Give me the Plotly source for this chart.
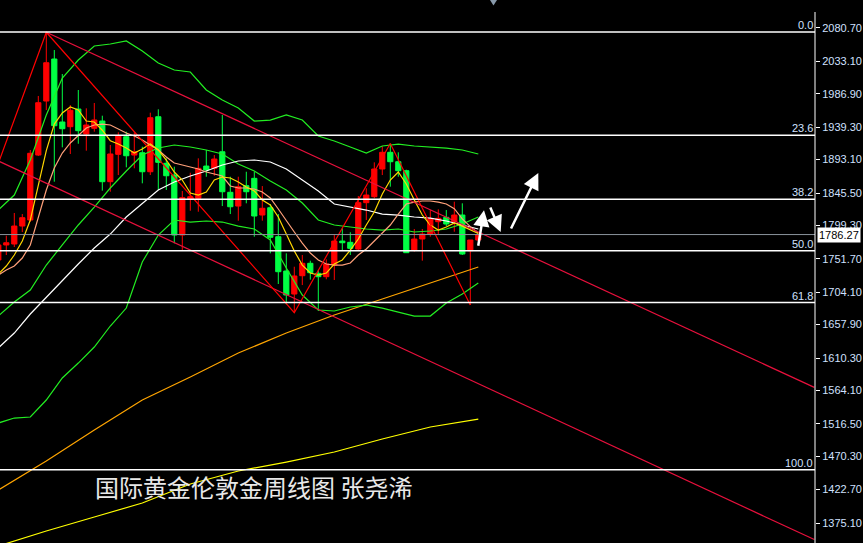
import plotly.graph_objects as go
import pandas as pd

# ---------------- data ----------------
weeks = pd.date_range("2020-06-21", periods=61, freq="7D")

opens = [1750.0, 1771.4, 1772.8, 1798.4, 1807.0, 1899.6, 1976.6, 2036.5, 1946.7, 1940.0,
         1965.2, 1929.6, 1937.7, 1948.1, 1861.6, 1900.6, 1925.7, 1899.6, 1902.9, 1875.8,
         1954.2, 1887.8, 1871.1, 1785.6, 1836.9, 1837.9, 1883.9, 1880.7, 1904.3, 1846.5,
         1826.9, 1855.9, 1866.4, 1814.1, 1824.5, 1783.2, 1734.3, 1701.5, 1727.6, 1745.3,
         1731.0, 1726.2, 1742.8, 1777.0, 1775.2, 1765.6, 1831.7, 1840.2, 1879.7, 1903.5,
         1890.1, 1877.3, 1764.2, 1779.9, 1787.0, 1804.6, 1810.8, 1804.6, 1814.1, 1763.2,
         1778.5]
highs = [1774.2, 1784.6, 1817.0, 1815.5, 1906.8, 1983.8, 2074.6, 2049.3, 2015.1, 1970.9,
         1992.3, 1966.2, 1973.8, 1955.7, 1913.9, 1932.0, 1932.9, 1932.0, 1911.5, 1960.0,
         1964.8, 1894.9, 1883.0, 1848.3, 1874.4, 1894.9, 1906.8, 1899.6, 1956.7, 1868.7,
         1868.7, 1875.8, 1875.8, 1855.4, 1829.8, 1815.5, 1759.5, 1740.4, 1757.1, 1749.0,
         1736.0, 1750.9, 1785.6, 1795.2, 1789.5, 1841.2, 1852.2, 1889.2, 1912.0, 1916.0,
         1903.5, 1878.7, 1794.2, 1794.2, 1821.2, 1822.2, 1821.2, 1833.1, 1830.8, 1778.5,
         1788.0]
lows = [1747.1, 1757.1, 1768.5, 1789.9, 1804.6, 1898.2, 1963.8, 1861.6, 1910.6, 1901.1,
        1915.7, 1905.8, 1932.9, 1848.8, 1847.3, 1871.1, 1882.1, 1880.7, 1859.3, 1871.1,
        1849.8, 1849.8, 1773.8, 1763.2, 1820.2, 1818.8, 1868.7, 1870.1, 1826.9, 1815.5,
        1806.0, 1830.8, 1783.2, 1806.0, 1759.5, 1715.8, 1686.8, 1674.9, 1714.3, 1722.0,
        1677.3, 1722.5, 1721.5, 1763.2, 1757.1, 1764.2, 1807.0, 1837.9, 1871.1, 1854.5,
        1868.7, 1760.0, 1762.0, 1749.0, 1783.2, 1787.0, 1798.4, 1790.3, 1757.1, 1685.8,
        1777.0]
closes = [1771.4, 1774.6, 1798.4, 1810.3, 1902.1, 1974.2, 2031.2, 1941.4, 1937.1, 1963.4,
          1934.3, 1942.4, 1949.6, 1861.6, 1901.1, 1926.7, 1898.6, 1904.3, 1875.8, 1952.8,
          1889.2, 1870.1, 1785.6, 1838.8, 1840.2, 1880.7, 1878.3, 1893.9, 1847.3, 1825.9,
          1854.5, 1847.3, 1812.7, 1823.7, 1782.3, 1733.3, 1700.1, 1727.2, 1745.3, 1731.9,
          1726.2, 1744.3, 1777.0, 1774.6, 1766.6, 1831.7, 1842.6, 1879.7, 1903.5, 1890.1,
          1877.3, 1760.4, 1779.9, 1787.0, 1808.4, 1809.4, 1801.3, 1814.1, 1758.5, 1778.5,
          1786.27]

ma5 = [1730.0, 1741.4, 1757.1, 1777.1, 1807.0, 1856.9, 1906.0, 1943.8, 1959.5, 1968.1,
       1963.8, 1948.1, 1946.7, 1935.0, 1920.0, 1915.3, 1909.6, 1902.5, 1908.2, 1915.3,
       1906.8, 1892.5, 1875.4, 1864.0, 1845.5, 1842.6, 1846.9, 1864.0, 1868.3, 1866.9,
       1861.2, 1854.0, 1848.3, 1835.5, 1828.4, 1811.3, 1787.0, 1762.8, 1742.8, 1731.4,
       1728.6, 1731.4, 1744.3, 1750.0, 1764.2, 1779.9, 1799.9, 1818.4, 1844.1, 1864.0,
       1875.4, 1858.3, 1835.5, 1814.1, 1799.9, 1792.7, 1797.0, 1802.7, 1798.3, 1792.4,
       1787.7]
ma10 = [1728.6, 1735.7, 1741.4, 1752.8, 1771.4, 1809.8, 1849.8, 1881.1, 1902.5, 1916.8,
        1928.2, 1938.1, 1942.4, 1943.8, 1942.4, 1936.7, 1931.0, 1926.7, 1921.0, 1913.9,
        1906.8, 1896.8, 1888.2, 1885.4, 1882.5, 1879.7, 1875.4, 1872.6, 1869.7, 1855.5,
        1852.6, 1852.6, 1851.2, 1846.9, 1838.4, 1822.7, 1805.6, 1789.9, 1774.2, 1759.9,
        1750.0, 1744.3, 1742.8, 1742.8, 1745.7, 1757.1, 1765.7, 1777.1, 1788.5, 1799.9,
        1815.5, 1829.8, 1832.6, 1834.1, 1834.1, 1832.6, 1829.8, 1823.1, 1808.6, 1797.5,
        1788.4]

# sampled every second week (weeks[0::2])
ma30 = [1624.5, 1645.9, 1673.0, 1697.2, 1721.5, 1744.3, 1767.1, 1787.0, 1811.3, 1831.2,
        1849.8, 1861.2, 1869.7, 1876.8, 1885.4, 1891.1, 1892.5, 1889.7, 1879.7, 1864.0,
        1848.3, 1829.8, 1825.5, 1821.2, 1815.5, 1814.1, 1811.3, 1809.8, 1805.6, 1799.9,
        1794.2]
bb_upper = [1821.2, 1842.6, 1892.5, 1956.7, 2009.4, 2035.1, 2055.0, 2057.9, 2062.2, 2047.9,
            2030.8, 2020.8, 2018.0, 1992.3, 1978.0, 1966.6, 1948.1, 1949.5, 1956.7, 1949.5,
            1926.7, 1919.6, 1911.1, 1902.5, 1912.5, 1915.3, 1912.5, 1911.1, 1909.6, 1906.8,
            1901.1]
bb_mid = [1670.1, 1690.1, 1707.2, 1742.8, 1771.4, 1799.9, 1825.5, 1852.6, 1876.8, 1899.6,
          1909.6, 1913.9, 1911.1, 1906.8, 1901.1, 1886.8, 1876.8, 1862.6, 1849.8, 1831.2,
          1807.0, 1799.9, 1797.0, 1794.2, 1792.7, 1794.2, 1789.9, 1791.3, 1794.2, 1801.3,
          1811.3]
bb_lower = [1517.6, 1524.7, 1526.2, 1550.4, 1581.8, 1603.1, 1626.0, 1655.9, 1681.5, 1747.1,
            1785.6, 1807.0, 1804.1, 1805.6, 1804.1, 1798.4, 1794.2, 1778.5, 1738.6, 1700.1,
            1678.7, 1677.3, 1683.0, 1685.8, 1681.5, 1675.8, 1670.1, 1670.1, 1688.7, 1701.5,
            1717.2]

# sampled every sixth week (weeks[0::6])
ma_orange = [1422.1, 1463.4, 1507.6, 1550.4, 1583.2, 1617.4, 1645.9, 1671.6, 1694.4, 1717.2, 1740.0]
ma_yellow = [1342.3, 1363.7, 1383.6, 1403.6, 1430.7, 1449.2, 1462.0, 1476.3, 1494.8, 1511.9, 1523.3]

zigzag_dates = ["2020-03-15", "2020-08-02", "2021-03-07", "2021-05-30", "2021-08-08"]
zigzag_prices = [1451.0, 2074.6, 1674.9, 1916.0, 1685.8]

chan_upper_dates = ["2020-08-02", "2022-06-05"]
chan_upper_prices = [2074.6, 1568.4]
chan_lower_dates = ["2020-06-21", "2022-06-05"]
chan_lower_prices = [1891.2, 1351.5]

fib_labels = ["0.0", "23.6", "38.2", "50.0", "61.8", "100.0"]
fib_prices = [2075.0, 1927.7, 1836.6, 1763.0, 1689.4, 1451.0]

last_price = 1786.27

tick_values = [2080.70, 2033.10, 1986.90, 1939.30, 1893.10, 1845.50, 1799.30, 1751.70,
               1704.10, 1657.90, 1610.30, 1564.10, 1516.50, 1470.30, 1422.70, 1375.10]

# arrows: (tip date, tip price, tail offset x px, tail offset y px)
arrows = [("2021-08-20", 1821.0, -6, 37),
          ("2021-09-03 14:00", 1790.0, -11, -26),
          ("2021-10-06 12:00", 1874.0, -28, 57)]

title_text = "国际黄金伦敦金周线图 张尧浠"

# ---------------- figure ----------------
RED = "#ff0000"
GREEN = "#00ff44"
AXC = "#d0e0ff"

fig = go.Figure()

fig.add_trace(go.Candlestick(
    x=weeks, open=opens, high=highs, low=lows, close=closes,
    increasing=dict(line=dict(color=RED, width=1), fillcolor=RED),
    decreasing=dict(line=dict(color=GREEN, width=1), fillcolor=GREEN),
    whiskerwidth=0, showlegend=False, hoverinfo="skip"))

def line(x, y, color, width=1.2):
    fig.add_trace(go.Scatter(x=x, y=y, mode="lines",
                             line=dict(color=color, width=width),
                             showlegend=False, hoverinfo="skip"))

line(weeks[0::6], ma_yellow, "#ffff00")
line(weeks[0::6], ma_orange, "#ffa500")
line(weeks[0::2], bb_upper, "#22ee22")
line(weeks[0::2], bb_mid, "#22ee22")
line(weeks[0::2], bb_lower, "#22ee22")
line(weeks[0::2], ma30, "#ffffff")
line(weeks, ma10, "#ffa07a")
line(weeks, ma5, "#ffd700")
line(chan_upper_dates, chan_upper_prices, "#e8103c")
line(chan_lower_dates, chan_lower_prices, "#e8103c")
line(zigzag_dates, zigzag_prices, RED)

shapes = []
for p in fib_prices:
    shapes.append(dict(type="line", xref="paper", yref="y", x0=0, x1=1, y0=p, y1=p,
                       line=dict(color="#ffffff", width=1.5), layer="above"))
shapes.append(dict(type="line", xref="paper", yref="y", x0=0, x1=1, y0=last_price, y1=last_price,
                   line=dict(color="#8a939c", width=1), layer="above"))
# price axis line
shapes.append(dict(type="line", xref="paper", yref="paper", x0=1, x1=1, y0=0, y1=1 - 12 / 543,
                   line=dict(color="#ffffff", width=1)))
# small marker at top
shapes.append(dict(type="path", xref="paper", yref="paper",
                   path="M 0.6012 1 L 0.6098 1 L 0.6055 0.9899 Z",
                   fillcolor="#8899aa", line=dict(width=0)))

annotations = []
for lab, p in zip(fib_labels, fib_prices):
    annotations.append(dict(xref="paper", yref="y", x=1, y=p, text=lab, showarrow=False,
                            xanchor="right", yanchor="bottom", xshift=-1, yshift=0,
                            borderpad=0,
                            font=dict(family="Liberation Sans, Arial", size=11, color=AXC)))
annotations.append(dict(xref="paper", yref="y", x=1, y=last_price, text=f"{last_price:.2f}",
                        showarrow=False, xanchor="left", yanchor="middle", xshift=2,
                        bgcolor="#ffffff", borderpad=1,
                        font=dict(family="Liberation Sans, Arial", size=11, color="#000000")))
for d, p, axp, ayp in arrows:
    annotations.append(dict(xref="x", yref="y", x=d, y=p, ax=axp, ay=ayp, text="",
                            showarrow=True, arrowhead=2, arrowsize=1.3, arrowwidth=2.5,
                            arrowcolor="#ffffff"))
annotations.append(dict(xref="paper", yref="paper", x=93 / 815, y=1 - 486 / 543,
                        text=title_text, showarrow=False, xanchor="left", yanchor="middle",
                        font=dict(family="Noto Sans CJK SC", size=24, color="#e8e8e8")))

x0 = weeks[1] - pd.Timedelta(days=5.5125)
x1 = weeks[1] + pd.Timedelta(days=707.6125)

fig.update_layout(
    width=863, height=543, autosize=False,
    margin=dict(l=0, r=48, t=0, b=0),
    paper_bgcolor="#000000", plot_bgcolor="#000000",
    hovermode=False, showlegend=False,
    boxgap=0.35, boxgroupgap=0,
    shapes=shapes, annotations=annotations,
    xaxis=dict(type="date", range=[x0, x1], visible=False, rangeslider=dict(visible=False),
               showgrid=False, zeroline=False),
    yaxis=dict(range=[1346.6, 2120.6], side="right", showgrid=False, zeroline=False,
               showline=False, tickvals=tick_values, automargin=False,
               ticktext=[f"{v:.2f}" for v in tick_values],
               ticks="outside", ticklen=4, tickcolor="#ffffff", tickwidth=1,
               tickfont=dict(family="Liberation Sans, Arial", size=11, color=AXC)),
)

fig.write_html("out.html", config={"displayModeBar": False},
               post_script="document.body.style.margin='0';document.body.style.padding='0';"
                           "document.body.style.overflow='hidden';"
                           "document.body.style.background='#000';")
